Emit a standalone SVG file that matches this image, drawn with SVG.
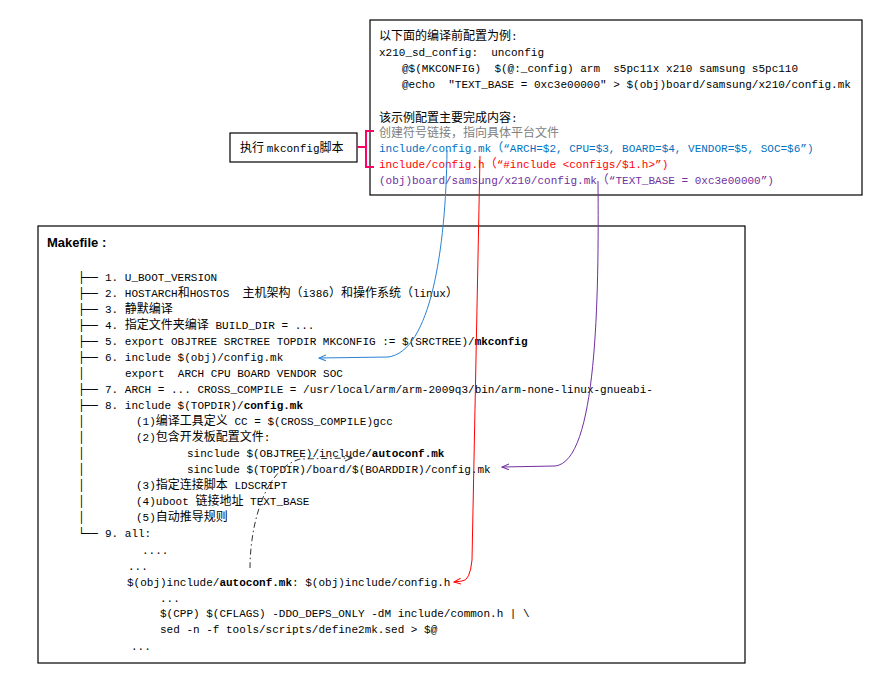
<svg xmlns="http://www.w3.org/2000/svg" width="869" height="686" viewBox="0 0 869 686">
<style>
.m{font-family:"Liberation Mono","DejaVu Sans Mono","Noto Sans CJK SC",monospace;font-size:11px;fill:#000}
.c{font-family:"Noto Sans CJK SC",sans-serif;font-size:12px}
.t{font-family:"DejaVu Sans Mono",monospace;font-size:11px;fill:#000}
.b{font-weight:bold}
.box{fill:#fff;stroke:#000;stroke-width:1.2}
.blue{fill:#0070C0}.red{fill:#FF0000}.pur{fill:#7030A0}.gray{fill:#808080}
</style>
<defs>
<marker id="ab" markerWidth="8" markerHeight="8" refX="7" refY="3.5" orient="auto" markerUnits="userSpaceOnUse"><path d="M0,0.5 L7,3.5 L0,6.5" fill="none" stroke="#2A82D4" stroke-width="1"/></marker>
<marker id="ar" markerWidth="8" markerHeight="8" refX="7" refY="3.5" orient="auto" markerUnits="userSpaceOnUse"><path d="M0,0.5 L7,3.5 L0,6.5" fill="none" stroke="#FF0000" stroke-width="1"/></marker>
<marker id="ap" markerWidth="8" markerHeight="8" refX="7" refY="3.5" orient="auto" markerUnits="userSpaceOnUse"><path d="M0,0.5 L7,3.5 L0,6.5" fill="none" stroke="#7030A0" stroke-width="1"/></marker>
<marker id="ak" markerWidth="8" markerHeight="8" refX="7" refY="3.5" orient="auto" markerUnits="userSpaceOnUse"><path d="M0,0.5 L7,3.5 L0,6.5" fill="none" stroke="#333" stroke-width="1"/></marker>
</defs>
<rect width="869" height="686" fill="#fff"/>

<g id="config-box">
<rect class="box" x="370" y="20" width="492" height="175"/>
<text class="m" x="379" y="40"><tspan class="c">以下面的编译前配置为例</tspan>:</text>
<text class="m" x="379" y="56" xml:space="preserve">x210_sd_config:  unconfig</text>
<text class="m" x="402" y="72" xml:space="preserve">@$(MKCONFIG)  $(@:_config) arm  s5pc11x x210 samsung s5pc110</text>
<text class="m" x="402" y="88" xml:space="preserve">@echo  "TEXT_BASE = 0xc3e00000" &gt; $(obj)board/samsung/x210/config.mk</text>
<text class="m" x="379" y="122"><tspan class="c">该示例配置主要完成内容</tspan>:</text>
<text class="m gray" x="379" y="137"><tspan class="c">创建符号链接，指向具体平台文件</tspan></text>
<text class="m blue" x="379" y="152">include/config.mk<tspan class="c">（</tspan>“ARCH=$2, CPU=$3, BOARD=$4, VENDOR=$5, SOC=$6”)</text>
<text class="m red" x="379" y="168">include/config.h<tspan class="c">（</tspan>“#include &lt;configs/$1.h&gt;”)</text>
<text class="m pur" x="379" y="184">(obj)board/samsung/x210/config.mk<tspan class="c">（</tspan>“TEXT_BASE = 0xc3e00000”)</text>
</g>

<g id="mkconfig-label">
<rect class="box" x="230" y="133" width="127" height="29"/>
<text class="m" x="240" y="152"><tspan class="c">执行 </tspan>mkconfig<tspan class="c">脚本</tspan></text>
</g>

<g id="makefile-box">
<rect class="box" x="38" y="226" width="707" height="437"/>
<text x="47" y="247" style="font-family:'Liberation Sans',Arial,sans-serif;font-size:13px;font-weight:bold">Makefile :</text>
<text class="t" x="78" y="281">├──</text><text class="m" x="105" y="281">1. U_BOOT_VERSION</text>
<text class="t" x="78" y="297">├──</text><text class="m" x="105" y="297" xml:space="preserve">2. HOSTARCH<tspan class="c">和</tspan>HOSTOS  <tspan class="c">主机架构（</tspan>i386<tspan class="c">）和操作系统（</tspan>linux<tspan class="c">）</tspan></text>
<text class="t" x="78" y="313">├──</text><text class="m" x="105" y="313">3. <tspan class="c">静默编译</tspan></text>
<text class="t" x="78" y="329">├──</text><text class="m" x="105" y="329">4. <tspan class="c">指定文件夹编译</tspan> BUILD_DIR = ...</text>
<text class="t" x="78" y="345">├──</text><text class="m" x="105" y="345">5. export OBJTREE SRCTREE TOPDIR MKCONFIG := $(SRCTREE)/<tspan class="b">mkconfig</tspan></text>
<text class="t" x="78" y="361">├──</text><text class="m" x="105" y="361">6. include $(obj)/config.mk</text>
<text class="t" x="78" y="377">│</text><text class="m" x="125" y="377" xml:space="preserve">export  ARCH CPU BOARD VENDOR SOC</text>
<text class="t" x="78" y="393">├──</text><text class="m" x="105" y="393">7. ARCH = ... CROSS_COMPILE = /usr/local/arm/arm-2009q3/bin/arm-none-linux-gnueabi-</text>
<text class="t" x="78" y="409">├──</text><text class="m" x="105" y="409">8. include $(TOPDIR)/<tspan class="b">config.mk</tspan></text>
<text class="t" x="78" y="425">│</text><text class="m" x="136" y="425">(1)<tspan class="c">编译工具定义</tspan> CC = $(CROSS_COMPILE)gcc</text>
<text class="t" x="78" y="441">│</text><text class="m" x="136" y="441">(2)<tspan class="c">包含开发板配置文件</tspan>:</text>
<text class="t" x="78" y="457">│</text><text class="m" x="187" y="457">sinclude $(OBJTREE)/include/<tspan class="b">autoconf.mk</tspan></text>
<text class="t" x="78" y="473">│</text><text class="m" x="187" y="473">sinclude $(TOPDIR)/board/$(BOARDDIR)/config.mk</text>
<text class="t" x="78" y="489">│</text><text class="m" x="136" y="489">(3)<tspan class="c">指定连接脚本</tspan> LDSCRIPT</text>
<text class="t" x="78" y="505">│</text><text class="m" x="136" y="505">(4)uboot <tspan class="c">链接地址</tspan> TEXT_BASE</text>
<text class="t" x="78" y="521">│</text><text class="m" x="136" y="521">(5)<tspan class="c">自动推导规则</tspan></text>
<text class="t" x="78" y="537">└──</text><text class="m" x="105" y="537">9. all:</text>
<text class="m" x="142" y="554">....</text>
<text class="m" x="128" y="570">...</text>
<text class="m" x="127" y="586">$(obj)include/<tspan class="b">autoconf.mk</tspan>: $(obj)include/config.h</text>
<text class="m" x="160" y="602">...</text>
<text class="m" x="160" y="617">$(CPP) $(CFLAGS) -DDO_DEPS_ONLY -dM include/common.h | \</text>
<text class="m" x="160" y="633">sed -n -f tools/scripts/define2mk.sed &gt; $@</text>
<text class="m" x="131" y="650">...</text>
</g>

<g id="connectors" fill="none">
<path d="M357,147 H366 M374,131 H366 V167 H374" stroke="#FF0066" stroke-width="2"/>
<path d="M447,150 C446,250 430,352 388,357 L319,358" stroke="#2A82D4" stroke-width="1" marker-end="url(#ab)"/>
<path d="M480,156 L472,560 Q470,581 462,581 L454,582" stroke="#FF0000" stroke-width="1" marker-end="url(#ar)"/>
<path d="M598,181 C599,300 597,462 555,466 L502,467" stroke="#7030A0" stroke-width="1" marker-end="url(#ap)"/>
<path d="M250,568 C250,530 262,470 300,459 L352,458" stroke="#333" stroke-width="1" stroke-dasharray="6,3,1.5,3" marker-end="url(#ak)"/>
</g>
</svg>
